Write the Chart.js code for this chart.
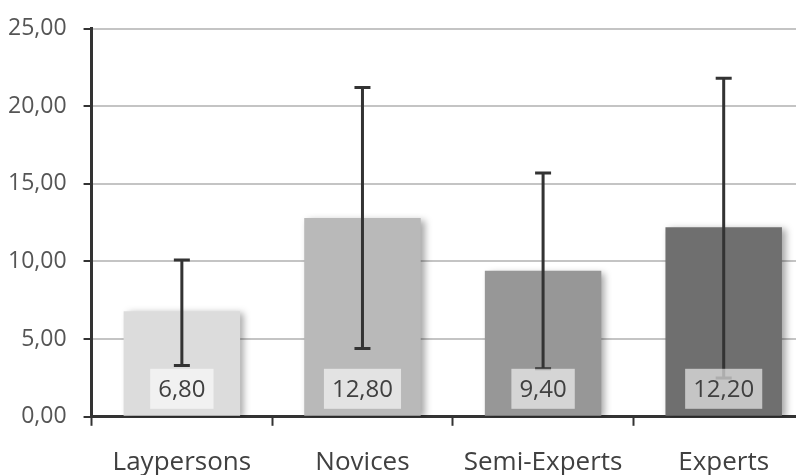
<!DOCTYPE html>
<html>
<head>
<meta charset="utf-8">
<script src="https://cdn.jsdelivr.net/npm/chart.js@4"></script>
<style>
  html, body { margin: 0; padding: 0; background: #fff; overflow: hidden; }
  #wrap { width: 814px; height: 475px; }
</style>
</head>
<body>
<div id="wrap"><canvas id="barChart" width="814" height="475"></canvas></div>
<script>
// Dados do gráfico
const categories = ["Laypersons", "Novices", "Semi-Experts", "Experts"];
const means = [6.80, 12.80, 9.40, 12.20];
const errLow = [3.3, 4.4, 3.1, 2.5];
const errHigh = [10.1, 21.2, 15.7, 21.8];
const barColors = ["#dcdcdc", "#b9b9b9", "#979797", "#6f6f6f"];
const yTicks = [0, 5, 10, 15, 20, 25];

const fmt = v => v.toFixed(2).replace(".", ",");

// sombra nas barras
const shadowPlugin = {
  id: "barShadow",
  beforeDatasetDraw(chart) {
    const c = chart.ctx;
    c.save();
    c.shadowColor = "rgba(0,0,0,0.35)";
    c.shadowBlur = 7;
    c.shadowOffsetX = 4;
    c.shadowOffsetY = 2;
  },
  afterDatasetDraw(chart) {
    chart.ctx.restore();
  }
};

// barras de erro + caixas de valor
const errorPlugin = {
  id: "errorBars",
  afterDatasetsDraw(chart) {
    const c = chart.ctx;
    const y = chart.scales.y;
    const meta = chart.getDatasetMeta(0);
    c.save();
    c.strokeStyle = "#333333";
    c.lineWidth = 3;
    meta.data.forEach((bar, i) => {
      const x = bar.x;
      const yl = y.getPixelForValue(errLow[i]);
      const yh = y.getPixelForValue(errHigh[i]);
      c.beginPath();
      c.moveTo(x, yl); c.lineTo(x, yh);
      c.moveTo(x - 8, yl); c.lineTo(x + 8, yl);
      c.moveTo(x - 8, yh); c.lineTo(x + 8, yh);
      c.stroke();
    });
    c.font = "24px 'Open Sans'";
    c.textAlign = "center";
    c.textBaseline = "middle";
    meta.data.forEach((bar, i) => {
      const txt = fmt(means[i]);
      const w = c.measureText(txt).width + 16;
      const h = 40;
      const bottom = y.getPixelForValue(0) - 8;
      c.fillStyle = "rgba(255,255,255,0.6)";
      c.fillRect(bar.x - w / 2, bottom - h, w, h);
      c.fillStyle = "#404040";
      c.fillText(txt, bar.x, bottom - h / 2 + 1);
    });
    c.restore();
  }
};

const ctx = document.getElementById("barChart").getContext("2d");
new Chart(ctx, {
  type: "bar",
  data: {
    labels: categories,
    datasets: [{
      data: means,
      backgroundColor: barColors,
      borderWidth: 0,
      barPercentage: 0.645,
      categoryPercentage: 1
    }]
  },
  options: {
    responsive: false,
    animation: false,
    layout: { padding: { top: -4, left: -9, right: 0, bottom: -24 } },
    plugins: { legend: { display: false }, tooltip: { enabled: false } },
    scales: {
      x: {
        grid: { display: true, drawOnChartArea: false, tickLength: 9, tickColor: "#333", tickWidth: 2, offset: true },
        border: { color: "#333", width: 3 },
        ticks: { color: "#404040", font: { family: "Open Sans", size: 26 }, padding: 21 }
      },
      y: {
        min: 0, max: 25,
        afterBuildTicks: s => { s.ticks = yTicks.map(v => ({ value: v })); },
        grid: { color: "#c4c4c4", lineWidth: 2, tickLength: 8, tickColor: "#333", tickWidth: 2 },
        border: { color: "#333", width: 3 },
        ticks: { color: "#555", font: { family: "Open Sans", size: 23, lineHeight: 1 }, padding: 17, callback: v => fmt(v) }
      }
    }
  },
  plugins: [shadowPlugin, errorPlugin]
});
</script>
</body>
</html>
